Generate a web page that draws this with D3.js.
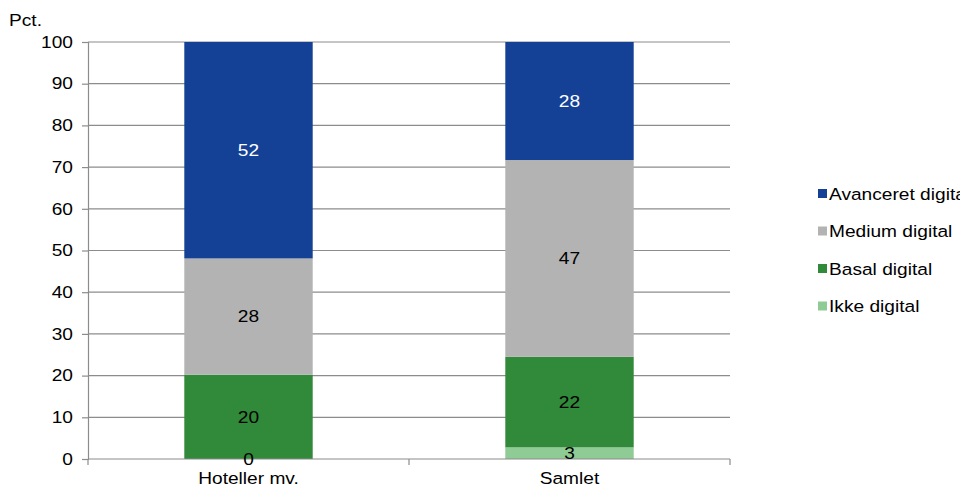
<!DOCTYPE html>
<html lang="da">
<head>
<meta charset="utf-8">
<title>Digitaliseringsgrad</title>
<script src="https://cdn.jsdelivr.net/npm/d3@7"></script>
<style>
  body { margin: 0; background: #fff; }
  svg text { font-family: "Liberation Sans", Arial, sans-serif; }
</style>
</head>
<body>
<script>
// Categories and series (bottom to top)
const categories = ["Hoteller mv.", "Samlet"];
const seriesNames = ["Ikke digital", "Basal digital", "Medium digital", "Avanceret digital"];
const ikke = [0, 2.8];
const basal = [20.2, 21.7];
const medium = [27.9, 47.2];
const avanceret = [51.9, 28.3];
const yTicks = [0, 10, 20, 30, 40, 50, 60, 70, 80, 90, 100];

const colors = ["#8fcb94", "#31893a", "#b3b3b3", "#144196"];
const labelColors = ["#000", "#000", "#000", "#fff"];

const w = 960, h = 488;
const margin = {left: 88, right: 230, top: 42, bottom: 29};
const fs = 16.5, sx = 1.16; // the text in the original is a bit stretched sideways

const svg = d3.select("body").append("svg").attr("width", w).attr("height", h);

// place a text at (x,y) and stretch it horizontally around its anchor
function put(sel, fx, fy) {
  sel.attr("transform", (d, i) => `translate(${fx(d, i)},${fy(d, i)}) scale(${sx},1)`)
     .attr("font-size", fs);
}

const rows = categories.map((c, i) => ({
  cat: c, "Ikke digital": ikke[i], "Basal digital": basal[i],
  "Medium digital": medium[i], "Avanceret digital": avanceret[i]
}));
const stacked = d3.stack().keys(seriesNames)(rows);

const x = d3.scaleBand().domain(categories)
  .range([margin.left, w - margin.right]).paddingInner(0.6).paddingOuter(0.3);
const y = d3.scaleLinear().domain([0, 100]).range([h - margin.bottom, margin.top]);

// gridlines
svg.append("g").selectAll("line").data(yTicks.slice(1)).join("line")
  .attr("x1", margin.left).attr("x2", w - margin.right)
  .attr("y1", d => y(d)).attr("y2", d => y(d))
  .attr("stroke", "#8c8c8c").attr("stroke-width", 1.2);

// bars
const layer = svg.append("g").selectAll("g").data(stacked).join("g")
  .attr("fill", (d, i) => colors[i]);
layer.selectAll("rect").data(d => d).join("rect")
  .attr("x", d => x(d.data.cat))
  .attr("width", x.bandwidth())
  .attr("y", d => y(d[1]))
  .attr("height", d => y(d[0]) - y(d[1]));

// y axis
const yAxis = svg.append("g").attr("transform", `translate(${margin.left},0)`)
  .call(d3.axisLeft(y).tickValues(yTicks).tickSize(6).tickFormat(""));
yAxis.select(".domain").attr("stroke", "#8c8c8c").attr("stroke-width", 1.2);
yAxis.selectAll(".tick line").attr("stroke", "#8c8c8c").attr("stroke-width", 1.2);
svg.append("g").selectAll("text").data(yTicks).join("text")
  .attr("text-anchor", "end").attr("dy", "0.35em").text(d => d)
  .call(put, () => margin.left - 15, d => y(d));

// x axis with boundary ticks
const xb = svg.append("g");
xb.append("line").attr("x1", margin.left).attr("x2", w - margin.right)
  .attr("y1", y(0)).attr("y2", y(0)).attr("stroke", "#8c8c8c").attr("stroke-width", 1.2);
const xEdges = [margin.left, (x(categories[0]) + x.bandwidth() + x(categories[1])) / 2, w - margin.right];
xb.selectAll("line.t").data(xEdges).join("line").attr("class", "t")
  .attr("x1", d => d).attr("x2", d => d)
  .attr("y1", y(0)).attr("y2", y(0) + 6)
  .attr("stroke", "#8c8c8c").attr("stroke-width", 1.2);
xb.selectAll("text").data(categories).join("text")
  .attr("text-anchor", "middle").text(d => d)
  .call(put, d => x(d) + x.bandwidth() / 2, () => y(0) + 25);

// value labels
stacked.forEach((s, si) => {
  svg.append("g").selectAll("text").data(s).join("text")
    .attr("dy", "0.35em")
    .attr("text-anchor", "middle")
    .attr("fill", labelColors[si])
    .text(d => Math.round(d[1] - d[0]))
    .call(put, d => x(d.data.cat) + x.bandwidth() / 2, d => y((d[0] + d[1]) / 2));
});

// y title
svg.append("text").text("Pct.").call(put, () => 9, () => 26);

// legend (top to bottom: reverse order)
const legend = svg.append("g").attr("transform", "translate(818,194)");
const li = legend.selectAll("g").data(seriesNames.slice().reverse()).join("g")
  .attr("transform", (d, i) => `translate(0,${i * 37.5})`);
li.append("rect").attr("x", 0).attr("y", -5).attr("width", 9).attr("height", 9)
  .attr("fill", (d, i) => colors[3 - i]);
li.append("text").attr("dy", "0.35em").text(d => d)
  .call(put, () => 11, () => 0);
</script>
</body>
</html>
